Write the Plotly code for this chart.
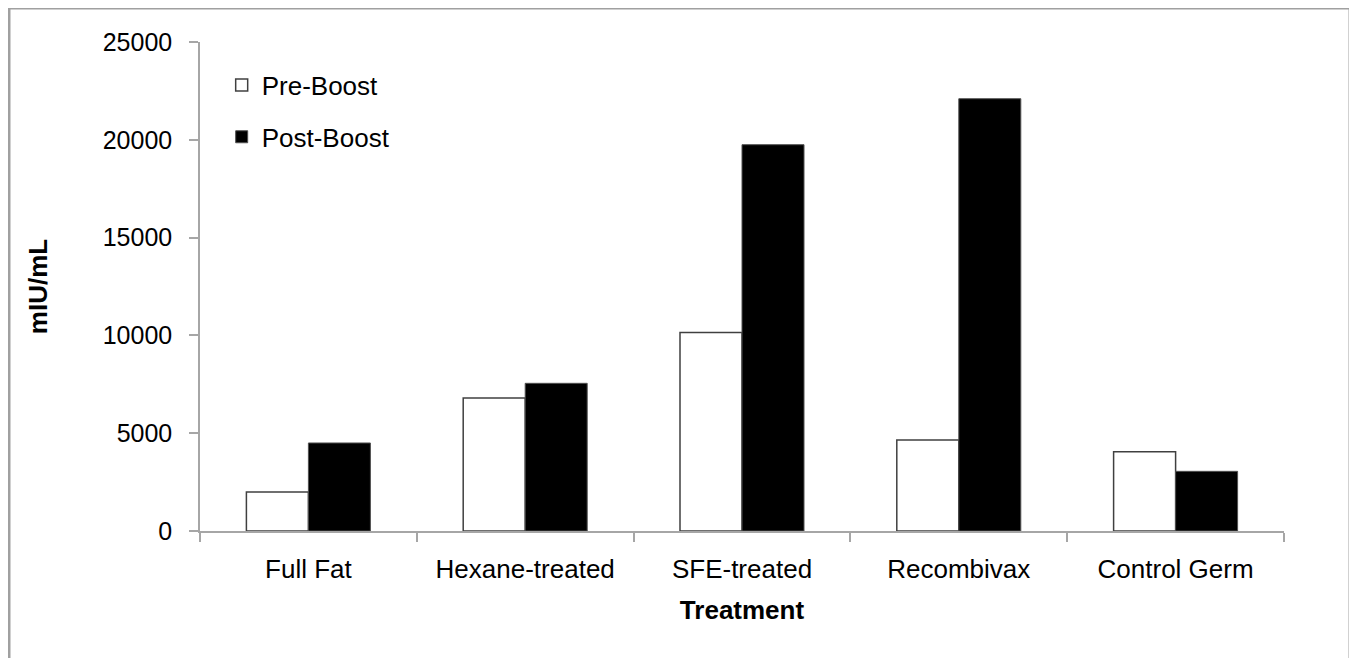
import plotly.graph_objects as go

categories = ["Full Fat", "Hexane-treated", "SFE-treated", "Recombivax", "Control Germ"]
pre_boost = [2000, 6800, 10150, 4650, 4050]
post_boost = [4500, 7550, 19750, 22100, 3050]
y_ticks = [0, 5000, 10000, 15000, 20000, 25000]

FONT = "Arial, Liberation Sans, sans-serif"

fig = go.Figure()
fig.add_trace(go.Bar(
    x=categories, y=pre_boost, name="Pre-Boost", legendgroup="pre",
    marker=dict(color="white", line=dict(color="#404040", width=1.5)),
))
fig.add_trace(go.Bar(
    x=categories, y=post_boost, name="Post-Boost", legendgroup="post",
    marker=dict(color="black", line=dict(color="#505050", width=1)),
))

fig.update_layout(
    width=1357, height=658,
    margin=dict(l=192, r=81, t=34, b=135),
    paper_bgcolor="white", plot_bgcolor="white",
    barmode="group", bargap=0.428, bargroupgap=0,
    font=dict(family=FONT, size=25, color="black"),
    showlegend=True,
    legend=dict(
        x=0.02, y=0.96, xanchor="left", yanchor="top",
        bgcolor="rgba(0,0,0,0)", font=dict(size=26),
        tracegroupgap=15, itemwidth=30,
    ),
    xaxis=dict(
        showline=True, linecolor="#a6a6a6", linewidth=1.5,
        ticks="outside", tickson="boundaries", ticklen=9, tickcolor="#a6a6a6",
        tickwidth=1.5, showgrid=False, ticklabelstandoff=14,
        title=dict(text="<b>Treatment</b>", font=dict(size=26), standoff=18),
        tickfont=dict(size=26),
    ),
    yaxis=dict(
        range=[0, 25000], tickvals=y_ticks, ticktext=[str(v) for v in y_ticks],
        showline=True, linecolor="#a6a6a6", linewidth=1.5,
        ticks="outside", ticklen=9, tickcolor="#a6a6a6", tickwidth=1.5,
        showgrid=False, zeroline=False, ticklabelstandoff=12,
        title=dict(text="<b>mIU/mL</b>", font=dict(size=26), standoff=48),
        tickfont=dict(size=25),
    ),
)

# outer gray frame of the picture
fig.add_shape(
    type="rect", xref="paper", yref="paper",
    x0=-0.1762, x1=1.0609, y0=-0.30, y1=1.0695,
    line=dict(color="#a0a0a0", width=3), fillcolor="rgba(0,0,0,0)", layer="below",
)

fig.write_html("out.html")
